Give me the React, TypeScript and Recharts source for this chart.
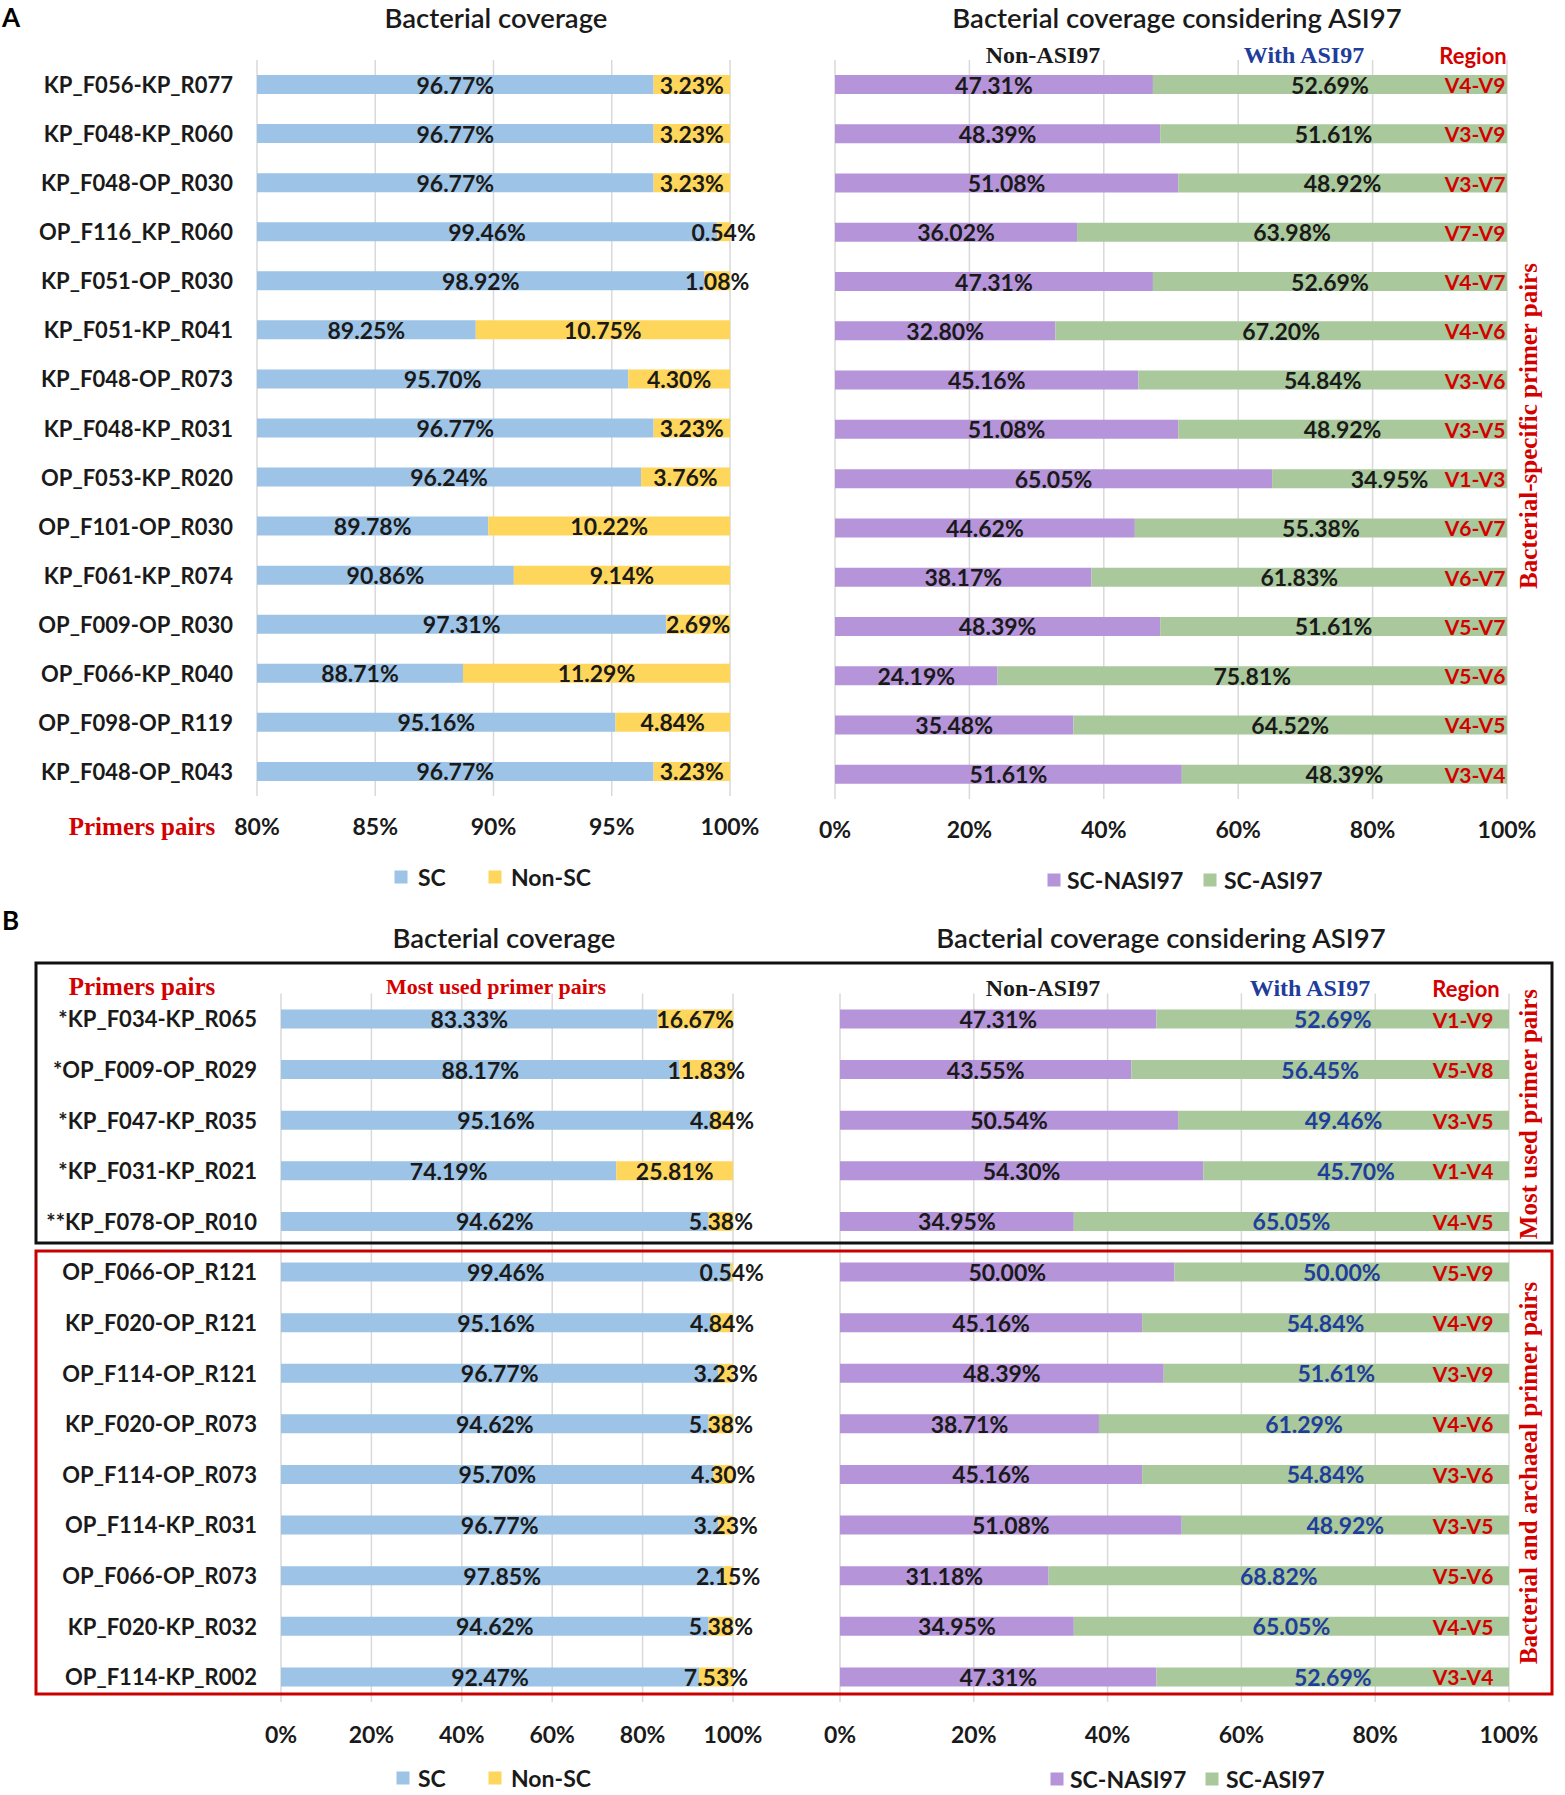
import React from 'react';
import { BarChart, Bar, XAxis, YAxis, CartesianGrid, LabelList } from 'recharts';

// ---------- Panel A data ----------
const aPairs = [
  'KP_F056-KP_R077', 'KP_F048-KP_R060', 'KP_F048-OP_R030', 'OP_F116_KP_R060', 'KP_F051-OP_R030',
  'KP_F051-KP_R041', 'KP_F048-OP_R073', 'KP_F048-KP_R031', 'OP_F053-KP_R020', 'OP_F101-OP_R030',
  'KP_F061-KP_R074', 'OP_F009-OP_R030', 'OP_F066-KP_R040', 'OP_F098-OP_R119', 'KP_F048-OP_R043',
];
const aSC = [96.77, 96.77, 96.77, 99.46, 98.92, 89.25, 95.7, 96.77, 96.24, 89.78, 90.86, 97.31, 88.71, 95.16, 96.77];
const aNonSC = [3.23, 3.23, 3.23, 0.54, 1.08, 10.75, 4.3, 3.23, 3.76, 10.22, 9.14, 2.69, 11.29, 4.84, 3.23];
const aNASI = [47.31, 48.39, 51.08, 36.02, 47.31, 32.8, 45.16, 51.08, 65.05, 44.62, 38.17, 48.39, 24.19, 35.48, 51.61];
const aASI = [52.69, 51.61, 48.92, 63.98, 52.69, 67.2, 54.84, 48.92, 34.95, 55.38, 61.83, 51.61, 75.81, 64.52, 48.39];
const aRegion = ['V4-V9', 'V3-V9', 'V3-V7', 'V7-V9', 'V4-V7', 'V4-V6', 'V3-V6', 'V3-V5', 'V1-V3', 'V6-V7', 'V6-V7', 'V5-V7', 'V5-V6', 'V4-V5', 'V3-V4'];

// ---------- Panel B data ----------
const bPairs = [
  '*KP_F034-KP_R065', '*OP_F009-OP_R029', '*KP_F047-KP_R035', '*KP_F031-KP_R021', '**KP_F078-OP_R010',
  'OP_F066-OP_R121', 'KP_F020-OP_R121', 'OP_F114-OP_R121', 'KP_F020-OP_R073', 'OP_F114-OP_R073',
  'OP_F114-KP_R031', 'OP_F066-OP_R073', 'KP_F020-KP_R032', 'OP_F114-KP_R002',
];
const bSC = [83.33, 88.17, 95.16, 74.19, 94.62, 99.46, 95.16, 96.77, 94.62, 95.7, 96.77, 97.85, 94.62, 92.47];
const bNonSC = [16.67, 11.83, 4.84, 25.81, 5.38, 0.54, 4.84, 3.23, 5.38, 4.3, 3.23, 2.15, 5.38, 7.53];
const bNASI = [47.31, 43.55, 50.54, 54.3, 34.95, 50.0, 45.16, 48.39, 38.71, 45.16, 51.08, 31.18, 34.95, 47.31];
const bASI = [52.69, 56.45, 49.46, 45.7, 65.05, 50.0, 54.84, 51.61, 61.29, 54.84, 48.92, 68.82, 65.05, 52.69];
const bRegion = ['V1-V9', 'V5-V8', 'V3-V5', 'V1-V4', 'V4-V5', 'V5-V9', 'V4-V9', 'V3-V9', 'V4-V6', 'V3-V6', 'V3-V5', 'V5-V6', 'V4-V5', 'V3-V4'];

// ---------- ticks & legends ----------
const ticksA80 = [80, 85, 90, 95, 100];
const ticksPct = [0, 20, 40, 60, 80, 100];
const coverageLegend = ['SC', 'Non-SC'];
const asiLegend = ['SC-NASI97', 'SC-ASI97'];

const C_SC = '#9dc3e6';
const C_NONSC = '#ffd65c';
const C_NASI = '#b594d9';
const C_ASI = '#a9c89b';
const RED = '#d40000';
const BLUE = '#1f3d9b';
const INK = '#1a1a1a';

const SANS = 'Lato, "Open Sans", sans-serif';
const SERIF = '"Liberation Serif", "DejaVu Serif", serif';

const aData = aPairs.map((p, i) => ({ pair: p, sc: aSC[i], nonsc: aNonSC[i], nasi: aNASI[i], asi: aASI[i], region: aRegion[i] }));
const bData = bPairs.map((p, i) => ({ pair: p, sc: bSC[i], nonsc: bNonSC[i], nasi: bNASI[i], asi: bASI[i], region: bRegion[i] }));

function makeValueLabel(plotLeft: number, plotRight: number, color: string) {
  return (props: any) => {
    const vb = props.viewBox && props.viewBox.width !== undefined ? props.viewBox : props;
    const { x, y, width, height } = vb;
    const value = props.value;
    if (value == null || x == null) return null;
    const l = Math.max(x, plotLeft);
    const r = Math.min(x + width, plotRight);
    const cx = (l + r) / 2;
    return (
      <text x={cx} y={y + height / 2} textAnchor="middle" dominantBaseline="central"
        fill={color} fontFamily={SANS} fontWeight={700} fontSize={23}>
        {Number(value).toFixed(2)}%
      </text>
    );
  };
}

function makeRegionLabel(offset: number) {
  return (props: any) => {
    const vb = props.viewBox && props.viewBox.width !== undefined ? props.viewBox : props;
    const { x, y, width, height } = vb;
    if (x == null) return null;
    return (
      <text x={x + width - offset} y={y + height / 2} textAnchor="middle" dominantBaseline="central"
        fill={RED} fontFamily={SANS} fontWeight={700} fontSize={21}>
        {props.value}
      </text>
    );
  };
}

const CatTick = (props: any) => {
  const { x, y, payload } = props;
  return (
    <text x={x - 24} y={y} textAnchor="end" dominantBaseline="central" fill={INK}
      fontFamily={SANS} fontWeight={700} fontSize={22}>
      {payload.value}
    </text>
  );
};

const makePctTick = (dy: number) => (props: any) => {
  const { x, y, payload } = props;
  return (
    <text x={x} y={y + dy} textAnchor="middle" dominantBaseline="central" fill={INK}
      fontFamily={SANS} fontWeight={700} fontSize={23}>
      {payload.value}%
    </text>
  );
};

type PanelProps = {
  data: any[];
  left: number;
  top: number;
  width: number;
  height: number;
  margin: { top: number; right: number; bottom: number; left: number };
  yAxisWidth: number;
  showCats: boolean;
  domain: [number, number];
  ticks: number[];
  tickDy: number;
  keys: [string, string];
  colors: [string, string];
  labelColors: [string, string];
  regionOffset?: number;
};

function Panel(p: PanelProps) {
  const plotLeft = p.margin.left + (p.showCats ? p.yAxisWidth : 0);
  const plotRight = p.width - p.margin.right;
  const Tick = makePctTick(p.tickDy);
  return (
    <div style={{ position: 'absolute', left: p.left, top: p.top, width: p.width, height: p.height }}>
      <BarChart width={p.width} height={p.height} data={p.data} layout="vertical" margin={p.margin} barSize={19}>
        <CartesianGrid horizontal={false} vertical={true} stroke="#d9d9d9" strokeWidth={1.5} />
        <XAxis type="number" domain={p.domain} ticks={p.ticks} allowDataOverflow interval={0}
          axisLine={false} tickLine={false} tickSize={0} tickMargin={0} height={60} tick={<Tick />} />
        <YAxis type="category" dataKey="pair" hide={!p.showCats} width={p.yAxisWidth} interval={0}
          axisLine={false} tickLine={false} tickSize={0} tickMargin={0} tick={<CatTick />} />
        <Bar dataKey={p.keys[0]} stackId="s" fill={p.colors[0]} isAnimationActive={false}>
          <LabelList dataKey={p.keys[0]} content={makeValueLabel(plotLeft, plotRight, p.labelColors[0])} />
        </Bar>
        <Bar dataKey={p.keys[1]} stackId="s" fill={p.colors[1]} isAnimationActive={false}>
          <LabelList dataKey={p.keys[1]} content={makeValueLabel(plotLeft, plotRight, p.labelColors[1])} />
          {p.regionOffset !== undefined && (
            <LabelList dataKey="region" content={makeRegionLabel(p.regionOffset)} />
          )}
        </Bar>
      </BarChart>
    </div>
  );
}

function LegendRow({ names, colors, squares, texts, y }: { names: string[]; colors: string[]; squares: number[]; texts: number[]; y: number }) {
  return (
    <g>
      {names.map((n, i) => (
        <g key={n}>
          <rect x={squares[i] - 6.5} y={y - 6.5} width={13} height={13} fill={colors[i]} />
          <text x={texts[i]} y={y} dominantBaseline="central" fill={INK} fontFamily={SANS} fontWeight={700} fontSize={23}>{n}</text>
        </g>
      ))}
    </g>
  );
}

function Overlay() {
  const vText = (x: number, y: number, s: string) => (
    <text x={x} y={y} transform={`rotate(-90 ${x} ${y})`} textAnchor="middle" dominantBaseline="central"
      fill={RED} fontFamily={SERIF} fontWeight={700} fontSize={25}>{s}</text>
  );
  const title = (x: number, y: number, s: string) => (
    <text x={x} y={y} textAnchor="middle" dominantBaseline="central" fill={INK}
      fontFamily={SANS} fontWeight={600} fontSize={27.5}>{s}</text>
  );
  return (
    <svg width={1565} height={1795} style={{ position: 'absolute', left: 0, top: 0, pointerEvents: 'none' }}>
      {/* Panel letters */}
      <text x={2} y={17} dominantBaseline="central" fill="#000" fontFamily={SANS} fontWeight={700} fontSize={26}>A</text>
      <text x={2} y={920} dominantBaseline="central" fill="#000" fontFamily={SANS} fontWeight={700} fontSize={26}>B</text>

      {/* Titles */}
      {title(496, 17, 'Bacterial coverage')}
      {title(1177, 17, 'Bacterial coverage considering ASI97')}
      {title(504, 937, 'Bacterial coverage')}
      {title(1161, 937, 'Bacterial coverage considering ASI97')}

      {/* Panel A headers */}
      <text x={1043} y={55} textAnchor="middle" dominantBaseline="central" fill={INK} fontFamily={SERIF} fontWeight={700} fontSize={24}>Non-ASI97</text>
      <text x={1304} y={55} textAnchor="middle" dominantBaseline="central" fill={BLUE} fontFamily={SERIF} fontWeight={700} fontSize={24}>With ASI97</text>
      <text x={1473} y={55} textAnchor="middle" dominantBaseline="central" fill={RED} fontFamily={SANS} fontWeight={700} fontSize={22}>Region</text>
      <text x={142} y={826} textAnchor="middle" dominantBaseline="central" fill={RED} fontFamily={SERIF} fontWeight={700} fontSize={25}>Primers pairs</text>
      {vText(1528, 426, 'Bacterial-specific primer pairs')}

      {/* Panel B boxes */}
      <rect x={36} y={963} width={1516} height={280} fill="none" stroke="#111" strokeWidth={3} />
      <rect x={36} y={1251} width={1516} height={443} fill="none" stroke="#c80000" strokeWidth={3} />

      {/* Panel B headers */}
      <text x={142} y={986} textAnchor="middle" dominantBaseline="central" fill={RED} fontFamily={SERIF} fontWeight={700} fontSize={25}>Primers pairs</text>
      <text x={496} y={986} textAnchor="middle" dominantBaseline="central" fill={RED} fontFamily={SERIF} fontWeight={700} fontSize={22}>Most used primer pairs</text>
      <text x={1043} y={988} textAnchor="middle" dominantBaseline="central" fill={INK} fontFamily={SERIF} fontWeight={700} fontSize={24}>Non-ASI97</text>
      <text x={1310} y={988} textAnchor="middle" dominantBaseline="central" fill={BLUE} fontFamily={SERIF} fontWeight={700} fontSize={24}>With ASI97</text>
      <text x={1466} y={988} textAnchor="middle" dominantBaseline="central" fill={RED} fontFamily={SANS} fontWeight={700} fontSize={22}>Region</text>
      {vText(1528, 1114, 'Most used primer pairs')}
      {vText(1528, 1473, 'Bacterial and archaeal primer pairs')}

      {/* Legends */}
      <LegendRow names={coverageLegend} colors={[C_SC, C_NONSC]} squares={[401, 495]} texts={[418, 511]} y={877} />
      <LegendRow names={asiLegend} colors={[C_NASI, C_ASI]} squares={[1054, 1210]} texts={[1067, 1224]} y={880} />
      <LegendRow names={coverageLegend} colors={[C_SC, C_NONSC]} squares={[403, 495]} texts={[418, 511]} y={1778} />
      <LegendRow names={asiLegend} colors={[C_NASI, C_ASI]} squares={[1057, 1212]} texts={[1070, 1226]} y={1779} />
    </svg>
  );
}

export default function App() {
  return (
    <div style={{ position: 'absolute', left: 0, top: 0, width: 1565, height: 1795, background: '#fff', overflow: 'hidden' }}>
      <Panel data={aData} left={0} top={0} width={800} height={856}
        margin={{ top: 60, right: 70, bottom: 0, left: 0 }} yAxisWidth={257} showCats
        domain={[80, 100]} ticks={ticksA80} tickDy={30} keys={['sc', 'nonsc']} colors={[C_SC, C_NONSC]} labelColors={[INK, INK]} />
      <Panel data={aData} left={800} top={0} width={765} height={859}
        margin={{ top: 60, right: 58, bottom: 0, left: 35 }} yAxisWidth={0} showCats={false}
        domain={[0, 100]} ticks={ticksPct} tickDy={30} keys={['nasi', 'asi']} colors={[C_NASI, C_ASI]} labelColors={[INK, INK]} regionOffset={32} />
      <Panel data={bData} left={0} top={930} width={800} height={832}
        margin={{ top: 63.5, right: 67, bottom: 0, left: 0 }} yAxisWidth={281} showCats
        domain={[0, 100]} ticks={ticksPct} tickDy={32} keys={['sc', 'nonsc']} colors={[C_SC, C_NONSC]} labelColors={[INK, INK]} />
      <Panel data={bData} left={800} top={930} width={765} height={832}
        margin={{ top: 63.5, right: 56, bottom: 0, left: 40 }} yAxisWidth={0} showCats={false}
        domain={[0, 100]} ticks={ticksPct} tickDy={32} keys={['nasi', 'asi']} colors={[C_NASI, C_ASI]} labelColors={[INK, BLUE]} regionOffset={46} />
      <Overlay />
    </div>
  );
}
